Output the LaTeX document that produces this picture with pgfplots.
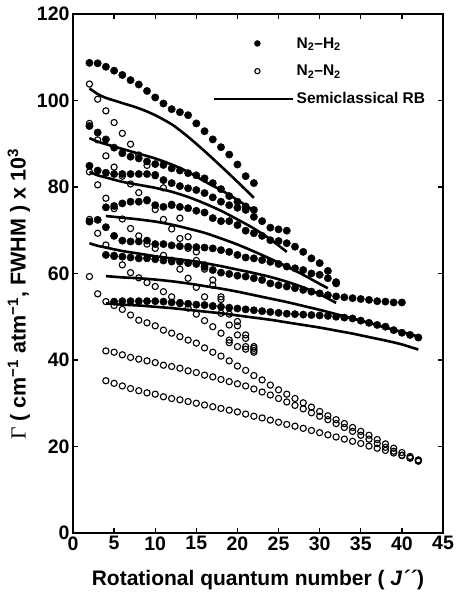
\documentclass[border=0pt]{standalone}
\usepackage{fontspec}
\setmainfont{Liberation Sans}
\newfontfamily\serifG{Liberation Serif}
\usepackage{pgfplots}
\pgfplotsset{compat=1.18}
\pgfplotsset{
  filled/.style={only marks, mark=*, mark size=3.7pt, black, mark options={fill=black}},
  open/.style={only marks, mark=o, mark size=3.1pt, black, mark options={line width=1.1pt, fill=none}},
  rb/.style={black, line width=2.6pt, smooth, no marks},
  legfilled/.style={legend image code/.code={\path (0pt,0pt) (79pt,0pt); \draw[##1, mark size=3pt] plot coordinates {(43pt,0pt)};}},
  legopen/.style={legend image code/.code={\path (0pt,0pt) (79pt,0pt); \draw[##1, mark size=2.6pt] plot coordinates {(43pt,0pt)};}},
  legline/.style={legend image code/.code={\draw[##1] (0pt,0pt) -- (79pt,0pt);}},
}
\begin{document}
\begin{tikzpicture}
\begin{axis}[
  name=ax, scale only axis, width=370pt, height=519pt,
  xmin=0, xmax=45, ymin=0, ymax=120,
  xtick={0,5,...,45}, ytick={0,20,...,120},
  tick align=inside, tick pos=both, major tick length=5pt,
  axis line style={line width=1.6pt},
  every tick/.style={black, line width=1.3pt},
  /pgf/number format/assume math mode=true,
  tick label style={font=\bfseries\fontsize{19.5}{19.5}\selectfont},
  xlabel={Rotational quantum number ( \textit{J´´})},
  xlabel style={font=\bfseries\fontsize{21}{21}\selectfont, yshift=-13pt},
  ylabel={{\serifG\mdseries Γ} ( cm\textsuperscript{−1} atm\textsuperscript{−1}, FWHM ) x 10\textsuperscript{3}},
  ylabel style={font=\bfseries\fontsize{21.5}{21.5}\selectfont, at={(ticklabel cs:0.46)}},
  legend cell align=left,
  legend style={at={(rel axis cs:0.37,0.963)}, anchor=north west, draw=none, fill=none,
    font=\bfseries\fontsize{15.5}{15.5}\selectfont, row sep=11.5pt},
]
% legend entries
\addplot[filled, legfilled] coordinates {(2,108.7)(3,108.6)(4,107.8)(5,106.9)(6,105.9)(7,104.7)(8,103.7)(9,102.2)(10,100.7)(11,99.3)(12,98.0)(13,97.3)(14,96.6)(15,94.7)(16,92.9)(17,91.0)(18,89.2)(19,87.5)(20,85.2)(21,82.5)(22,80.9)};
\addlegendentry{N\textsubscript{2}–H\textsubscript{2}}
\addplot[open, legopen] coordinates {(2,103.8)(3,100.3)(4,97.6)(5,94.9)(6,92.4)(7,89.9)(8,87.4)(9,85.0)(10,82.6)(11,79.8)(12,76.0)(13,72.8)(14,68.5)(15,65.0)(16,62.0)(17,58.5)(18,54.6)(19,50.6)(20,48.9)(21,45.8)(22,43.1)};
\addlegendentry{N\textsubscript{2}–N\textsubscript{2}}
\addplot[rb, legline] coordinates {(2,102.8)(3,101.5)(4,100.6)(5,100.0)(6,99.4)(8,98.2)(10,96.6)(12,94.5)(13,93.1)(14,91.6)(16,88.3)(18,84.8)(20,81.2)(22,77.5)};
\addlegendentry{Semiclassical RB}
% filled N2-H2
\addplot[filled, forget plot] coordinates {(2,94.1)(3,92.6)(4,91.0)(5,89.1)(6,87.8)(7,87.0)(8,86.6)(9,85.9)(10,85.3)(11,85.1)(12,84.3)(13,83.8)(14,83.2)(15,82.7)(16,82.0)(17,80.9)(18,79.5)(19,77.9)(20,76.6)(21,75.5)(22,74.7)};
\addplot[filled, forget plot] coordinates {(2,84.9)(3,83.8)(4,83.3)(5,83.0)(6,83.0)(7,83.0)(8,83.0)(9,83.0)(10,82.8)(11,81.6)(12,80.9)(13,80.2)(14,79.7)(15,79.3)(16,78.6)(17,77.6)(18,76.6)(19,75.8)(20,75.2)(21,74.7)(22,73.1)(23,72.1)(24,70.6)(25,70.2)(26,69.9)};
\addplot[filled, forget plot] coordinates {(4,75.3)(5,75.6)(6,76.2)(7,76.6)(8,76.6)(9,77.0)(10,75.8)(11,75.4)(12,75.8)(13,75.4)(14,75.1)(15,74.5)(16,74.1)(17,72.8)(18,72.1)(19,72.1)(20,71.2)(21,69.9)(22,69.3)(23,68.7)(24,67.7)(25,67.5)(26,67.0)(27,66.2)(28,65.0)(29,63.5)(30,62.4)(31,60.6)(32,57.7)};
\addplot[filled, forget plot] coordinates {(2,72.0)(3,72.4)(4,70.7)(5,68.7)(6,67.6)(7,67.4)(8,67.4)(9,67.6)(10,66.8)(11,66.8)(12,66.5)(13,66.3)(14,66.2)(15,66.1)(16,66.0)(17,65.8)(18,65.4)(19,65.0)(20,64.3)(21,63.7)(22,63.5)(23,63.1)(24,62.7)(25,62.2)(26,61.6)(27,61.2)(28,60.8)(29,60.0)(30,59.7)(31,58.9)(32,58.0)};
\addplot[filled, forget plot] coordinates {(4,64.3)(5,64.0)(6,63.9)(7,63.7)(8,63.5)(9,63.5)(10,63.3)(11,63.0)(12,63.0)(13,62.7)(14,62.4)(15,62.2)(16,61.5)(17,60.8)(18,60.2)(19,59.9)(20,59.5)(21,59.3)(22,58.9)(23,58.5)(24,57.7)(25,57.3)(26,57.0)(27,56.6)(28,56.2)(29,55.8)(30,55.4)(31,55.0)(32,54.7)(33,54.5)(34,54.3)(35,54.1)(36,53.9)(37,53.6)(38,53.5)(39,53.3)(40,53.3)};
\addplot[filled, forget plot] coordinates {(5,53.5)(6,53.6)(7,53.6)(8,53.6)(9,53.6)(10,53.6)(11,53.5)(12,53.3)(13,53.1)(14,53.0)(15,52.8)(16,52.7)(17,52.5)(18,52.3)(19,52.1)(20,51.9)(21,51.7)(22,51.5)(23,51.3)(24,51.1)(25,50.9)(26,50.7)(27,50.6)(28,50.5)(29,50.4)(30,50.3)(31,50.2)(32,50.0)(33,49.8)(34,49.6)(35,49.1)(36,48.6)(37,48.1)(38,47.7)(39,46.9)(40,46.3)(41,45.8)(42,45.2)};
% semiclassical lines
\addplot[rb, forget plot] coordinates {(2,91.3)(3,90.5)(4,89.9)(6,88.8)(8,87.7)(10,86.6)(12,85.2)(14,83.5)(16,81.3)(18,79.3)(20,77.0)(22,74.5)};
\addplot[rb, forget plot] coordinates {(2,83.5)(3,82.7)(4,82.2)(6,81.2)(8,80.5)(10,79.8)(12,78.9)(14,77.7)(16,76.2)(18,74.5)(20,72.5)(22,70.4)(24,67.9)(26,65.0)};
\addplot[rb, forget plot] coordinates {(4,73.3)(6,72.9)(8,72.5)(10,72.0)(12,71.3)(14,70.4)(16,69.4)(18,68.1)(20,66.7)(22,65.1)(24,63.4)(26,61.6)(28,59.7)(30,57.6)(31,56.6)};
\addplot[rb, forget plot] coordinates {(2,67.0)(3,66.4)(4,66.0)(6,65.2)(8,64.6)(10,64.0)(12,63.5)(14,63.0)(16,62.4)(18,61.7)(20,60.9)(22,60.1)(24,59.2)(26,58.1)(28,56.8)(30,55.2)(32,53.2)};
\addplot[rb, forget plot] coordinates {(4,59.4)(6,59.1)(8,58.9)(10,58.6)(12,58.2)(14,57.7)(16,57.1)(18,56.5)(20,55.8)(22,55.0)(24,54.2)(26,53.4)(28,52.5)(30,51.6)(32,50.6)(34,49.6)(36,48.6)(38,47.5)(40,46.5)(42,45.4)};
\addplot[rb, forget plot] coordinates {(4,53.1)(6,52.8)(8,52.6)(10,52.3)(12,52.0)(14,51.6)(16,51.2)(18,50.8)(20,50.3)(22,49.8)(24,49.3)(26,48.7)(28,48.1)(30,47.5)(32,46.8)(34,46.1)(36,45.3)(38,44.5)(40,43.6)(42,42.4)};
% open N2-N2
\addplot[open, forget plot] coordinates {(2,94.7)(3,90.9)(4,87.2)(5,84.6)(6,82.5)(7,80.7)(8,78.7)(9,76.8)(10,74.8)(11,72.5)(12,70.3)(13,68.1)(14,65.8)(15,63.0)(16,61.0)(17,57.3)(18,54.0)(19,48.1)(20,47.9)(21,45.0)(22,42.7)};
\addplot[open, forget plot] coordinates {(2,83.5)(3,80.5)(4,77.4)(5,75.0)(6,72.6)(7,70.4)(8,68.7)(9,66.8)(10,65.8)(11,64.2)(12,62.7)(13,61.0)(14,58.9)(15,56.8)(16,54.6)(17,52.4)(18,50.8)(19,44.6)(20,45.8)(21,43.1)(22,42.2)};
\addplot[open, forget plot] coordinates {(2,72.5)(3,69.3)(4,66.6)(5,64.2)(6,62.0)(7,60.2)(8,59.0)(9,57.9)(10,57.0)(11,55.8)(12,54.6)(13,53.3)(14,52.0)(15,50.6)(16,49.1)(17,47.7)(18,46.2)(19,44.0)(20,43.1)(21,42.5)(22,41.8)};
\addplot[open, forget plot] coordinates {(2,59.3)(3,55.3)(4,53.5)(5,52.6)(6,51.7)(7,50.4)(8,49.2)(9,48.6)(10,47.9)(11,46.9)(12,46.2)(13,45.4)(14,44.6)(15,43.9)(16,42.8)(17,41.8)(18,40.9)(19,39.8)(20,38.6)(21,37.6)(22,36.4)(23,35.4)(24,34.2)(25,33.1)(26,32.1)(27,31.1)(28,30.1)(29,29.1)(30,28.1)(31,27.1)(32,26.2)(33,25.3)(34,24.4)(35,23.5)(36,22.6)(37,21.6)(38,20.6)(39,19.6)(40,18.6)(41,17.7)(42,16.8)};
\addplot[open, forget plot] coordinates {(4,42.1)(5,41.8)(6,41.2)(7,40.6)(8,40.2)(9,39.8)(10,39.4)(11,38.8)(12,38.5)(13,38.1)(14,37.5)(15,37.1)(16,36.5)(17,36.1)(18,35.5)(19,35.0)(20,34.5)(21,34.0)(22,33.3)(23,32.6)(24,31.9)(25,31.1)(26,30.3)(27,29.5)(28,28.7)(29,27.8)(30,27.0)(31,26.2)(32,25.3)(33,24.4)(34,23.5)(35,22.6)(36,21.7)(37,20.7)(38,19.8)(39,18.9)(40,18.0)(41,17.3)(42,16.6)};
\addplot[open, forget plot] coordinates {(4,35.2)(5,34.6)(6,34.0)(7,33.4)(8,32.9)(9,32.4)(10,32.1)(11,31.5)(12,31.1)(13,30.8)(14,30.4)(15,30.0)(16,29.6)(17,29.2)(18,28.8)(19,28.4)(20,28.0)(21,27.5)(22,27.0)(23,26.6)(24,26.1)(25,25.6)(26,25.1)(27,24.7)(28,24.2)(29,23.7)(30,23.2)(31,22.7)(32,22.2)(33,21.7)(34,21.2)(35,20.7)(36,20.1)(37,19.6)(38,19.1)(39,18.5)(40,17.9)(41,17.4)(42,16.9)};
\end{axis}
\pgfresetboundingbox
\path ([xshift=-73pt,yshift=-63pt]ax.south west) rectangle ([xshift=14pt,yshift=14pt]ax.north east);
\end{tikzpicture}
\end{document}
